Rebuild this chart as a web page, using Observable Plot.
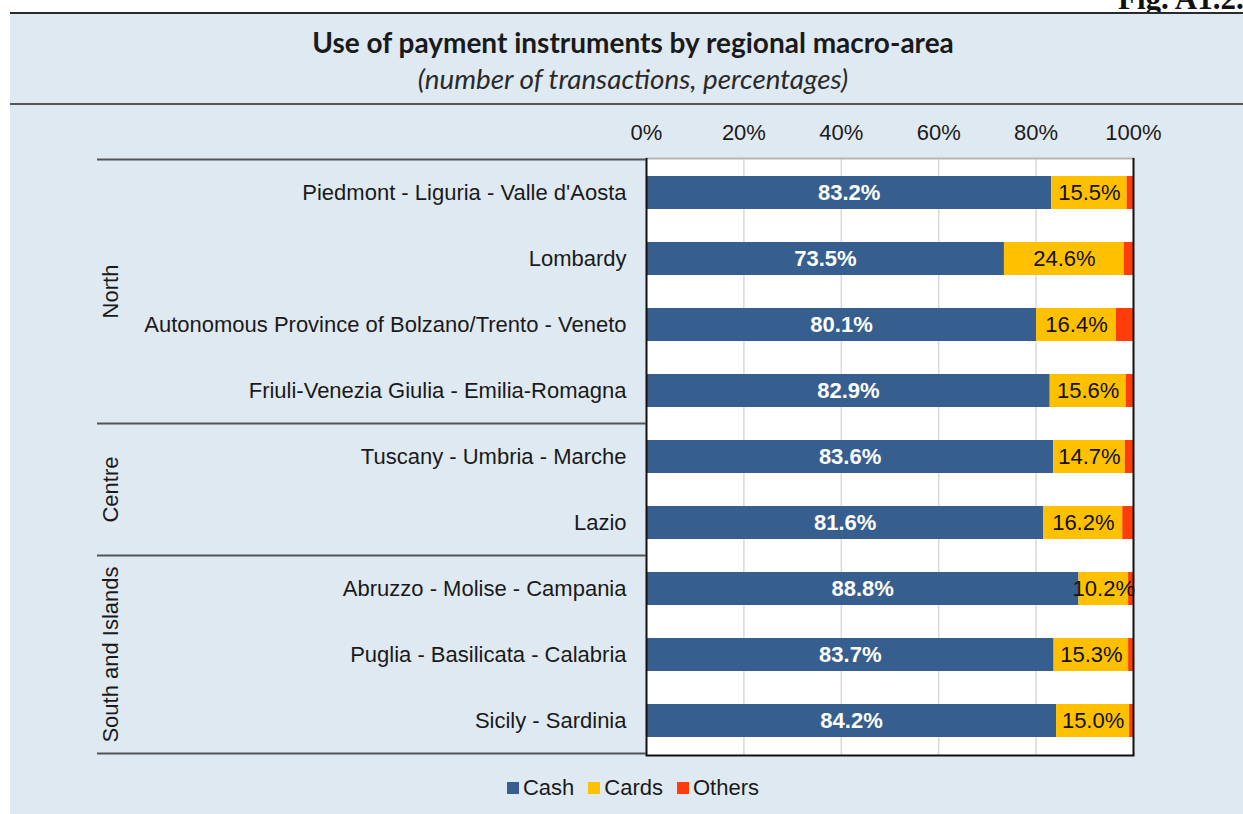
<!DOCTYPE html>
<html>
<head>
<meta charset="utf-8">
<script src="https://cdn.jsdelivr.net/npm/d3@7"></script>
<script src="https://cdn.jsdelivr.net/npm/@observablehq/plot@0.6"></script>
<style>
  html, body { margin: 0; padding: 0; }
  body { width: 1243px; height: 814px; overflow: hidden; position: relative; background: #ffffff;
         font-family: "Liberation Sans", Arial, sans-serif; }
  #fig { position: absolute; left: 1118px; top: -17px; font-family: "Liberation Serif", serif; font-weight: bold;
         font-size: 31px; line-height: 31px; color: #111; white-space: nowrap; }
  #panel { position: absolute; left: 10px; top: 12px; width: 1233px; height: 802px; background: #dfe9f2;
           border-top: 2px solid #2a2a2a; box-sizing: border-box; }
  #title { position: absolute; left: 0; top: 25px; width: 1266px; text-align: center; font-family: Lato, sans-serif;
           font-weight: 700; font-size: 28px; color: #1a1a1a; white-space: nowrap; }
  #subtitle { position: absolute; left: 0; top: 62px; width: 1266px; text-align: center; font-family: Lato, sans-serif;
              font-style: italic; font-size: 27.8px; color: #2a2a2a; white-space: nowrap; }
  #rule { position: absolute; left: 10px; top: 103px; width: 1233px; height: 0; border-top: 2px solid #555; }
  #chart { position: absolute; left: 0; top: 104px; }
  #legend { position: absolute; left: 0; top: 775px; width: 1266px; text-align: center; font-size: 22px; color: #1a1a1a;
            white-space: nowrap; }
  #legend .item { display: inline-block; margin: 0 7px; }
  #legend .sw { display: inline-block; width: 12px; height: 12px; margin-right: 4px; vertical-align: 1px; }
</style>
</head>
<body>
<div id="fig">Fig. A1.2.</div>
<div id="panel"></div>
<div id="title">Use of payment instruments by regional macro-area</div>
<div id="subtitle">(number of transactions, percentages)</div>
<div id="rule"></div>
<div id="chart"></div>
<div id="legend"></div>
<script>
// ---- data ----
const regions = [
  "Piedmont - Liguria - Valle d'Aosta",
  "Lombardy",
  "Autonomous Province of Bolzano/Trento - Veneto",
  "Friuli-Venezia Giulia - Emilia-Romagna",
  "Tuscany - Umbria - Marche",
  "Lazio",
  "Abruzzo - Molise - Campania",
  "Puglia - Basilicata - Calabria",
  "Sicily - Sardinia"
];
const groups = ["North", "Centre", "South and Islands"];
const groupSizes = [4, 2, 3];
const series = ["Cash", "Cards", "Others"];
const cash   = [83.2, 73.5, 80.1, 82.9, 83.6, 81.6, 88.8, 83.7, 84.2];
const cards  = [15.5, 24.6, 16.4, 15.6, 14.7, 16.2, 10.2, 15.3, 15.0];
const others = [1.3, 1.9, 3.5, 1.5, 1.7, 2.2, 1.0, 1.0, 0.8];
const xTicks = [0, 20, 40, 60, 80, 100];
const colors = ["#365f8f", "#ffc000", "#ff3c0a"];

// ---- long table ----
const values = [cash, cards, others];
const data = [];
regions.forEach((r, i) => series.forEach((s, j) => data.push({region: r, type: s, value: values[j][i]})));

const W = 1243, H = 710;
const chart = Plot.plot({
  width: W, height: H,
  marginLeft: 646, marginRight: 110, marginTop: 54, marginBottom: 59,
  style: {background: "transparent", fontFamily: "Liberation Sans, Arial, sans-serif", overflow: "visible", color: "#1a1a1a"},
  x: {domain: [0, 100], axis: null},
  y: {domain: regions, paddingInner: 0.5, paddingOuter: 0.25, axis: null},
  color: {domain: series, range: colors},
  marks: [
    Plot.frame({fill: "white", stroke: null}),
    Plot.gridX({ticks: xTicks.slice(1, -1), stroke: "#d9d9d9", strokeOpacity: 1, strokeWidth: 1.5}),
    Plot.barX(data, Plot.stackX({x: "value", y: "region", fill: "type", z: "type", order: series})),
    Plot.text(data, Plot.stackX({x: "value", y: "region", z: "type", order: series,
      text: d => d.type === "Cash" ? d.value.toFixed(1) + "%" : "",
      fill: "white", fontWeight: "bold", fontSize: 22})),
    Plot.text(data, Plot.stackX({x: "value", y: "region", z: "type", order: series,
      text: d => d.type === "Cards" ? d.value.toFixed(1) + "%" : "",
      fill: "#111", fontSize: 22})),
    Plot.frame({anchor: "top", stroke: "#b5b5b5", strokeWidth: 2}),
    Plot.frame({anchor: "bottom", stroke: "#111", strokeWidth: 2}),
    Plot.ruleX([0, 100], {stroke: "#111", strokeWidth: 2}),
    Plot.axisX({anchor: "top", ticks: xTicks, tickFormat: d => d + "%", tickSize: 0, tickPadding: 19,
                fontSize: 22, label: null}),
    Plot.axisY({tickSize: 0, tickPadding: 20, fontSize: 22, label: null})
  ]
});
document.getElementById("chart").appendChild(chart);

// ---- group separators and labels ----
const ys = chart.scale("y");
const half = (ys.step - ys.bandwidth) / 2;
const svg = d3.select(chart);
const gsep = svg.append("g");
let idx = 0;
const bounds = [];
groupSizes.forEach((n, g) => {
  const top = ys.apply(regions[idx]) - half;
  const bottom = ys.apply(regions[idx + n - 1]) + ys.bandwidth + half;
  bounds.push(top);
  if (g === groupSizes.length - 1) bounds.push(bottom);
  gsep.append("text")
    .attr("transform", `translate(110,${(top + bottom) / 2}) rotate(-90)`)
    .attr("text-anchor", "middle").attr("dy", "0.35em")
    .attr("font-size", 22).attr("fill", "#1a1a1a")
    .text(groups[g]);
  idx += n;
});
bounds.forEach(b => {
  gsep.append("line").attr("x1", 97).attr("x2", 646).attr("y1", b).attr("y2", b)
    .attr("stroke", "#555").attr("stroke-width", 2);
});

// ---- legend ----
const leg = d3.select("#legend");
series.forEach((s, i) => {
  const it = leg.append("span").attr("class", "item");
  it.append("span").attr("class", "sw").style("background", colors[i]);
  it.append("span").text(s);
});
</script>
</body>
</html>
